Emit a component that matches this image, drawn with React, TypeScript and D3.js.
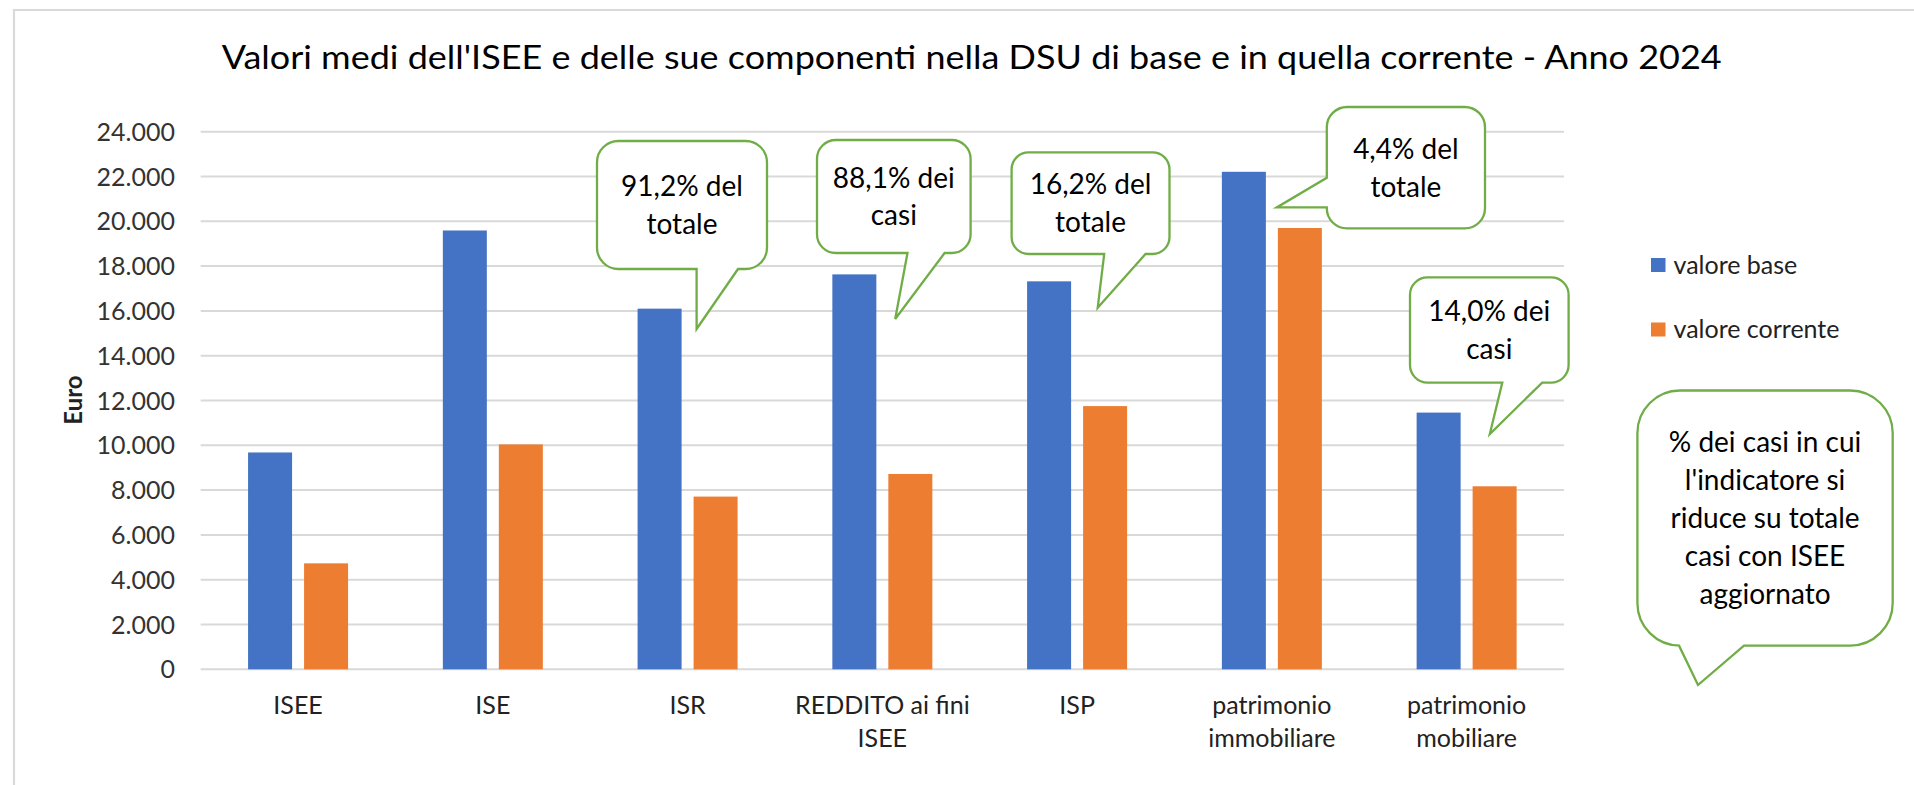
import React from 'react';
import * as d3 from 'd3';

// ---------- DATA ----------
const categories = [
  'ISEE',
  'ISE',
  'ISR',
  'REDDITO ai fini ISEE',
  'ISP',
  'patrimonio immobiliare',
  'patrimonio mobiliare',
];
const seriesNames = ['valore base', 'valore corrente'];
const valoreBase = [9680, 19590, 16100, 17630, 17320, 22210, 11460];
const valoreCorrente = [4730, 10040, 7710, 8720, 11750, 19700, 8170];
const yTickValues = [0, 2000, 4000, 6000, 8000, 10000, 12000, 14000, 16000, 18000, 20000, 22000, 24000];
const titleText = "Valori medi dell'ISEE e delle sue componenti nella DSU di base e in quella corrente - Anno 2024";
const yAxisTitle = 'Euro';
const calloutTexts = [
  ['91,2% del', 'totale'],
  ['88,1% dei', 'casi'],
  ['16,2% del', 'totale'],
  ['4,4% del', 'totale'],
  ['14,0% dei', 'casi'],
  ['% dei casi in cui', "l'indicatore si", 'riduce su totale', 'casi con ISEE', 'aggiornato'],
];

// ---------- LAYOUT ----------
const W = 1914;
const H = 785;
const PLOT = { left: 200.7, right: 1564, top: 131.7, bottom: 669.3 };
const COLORS = ['#4472C4', '#ED7D31'];
const GRID = '#D9D9D9';
const GREEN = '#70AD47';
const FONT = 'Lato, Carlito, Calibri, "Noto Sans", sans-serif';

type Callout = {
  x0: number; y0: number; x1: number; y1: number;
  side: 'bottom' | 'left'; a: number; b: number; tip: [number, number];
};
const CALLOUT_SHAPES: Callout[] = [
  { x0: 597, y0: 141, x1: 767, y1: 269, side: 'bottom', a: 696.6, b: 738, tip: [696.6, 329] },
  { x0: 817, y0: 140, x1: 970.6, y1: 253, side: 'bottom', a: 907.5, b: 944.6, tip: [895.2, 319] },
  { x0: 1011.6, y0: 152.4, x1: 1169.5, y1: 254, side: 'bottom', a: 1104.2, b: 1145.5, tip: [1097.7, 307.8] },
  { x0: 1326.8, y0: 107, x1: 1485, y1: 228.4, side: 'left', a: 177.8, b: 207.4, tip: [1276.8, 207.4] },
  { x0: 1410, y0: 277.4, x1: 1568.6, y1: 382.6, side: 'bottom', a: 1502.3, b: 1542.2, tip: [1489.8, 434] },
  { x0: 1637.4, y0: 390.5, x1: 1892.7, y1: 645.6, side: 'bottom', a: 1679, b: 1744, tip: [1698, 685] },
];

function calloutPath(c: Callout): string {
  const { x0, y0, x1, y1 } = c;
  const r = Math.min(x1 - x0, y1 - y0) / 6;
  const p = d3.path();
  p.moveTo(x0 + r, y0);
  p.lineTo(x1 - r, y0);
  p.arcTo(x1, y0, x1, y0 + r, r);
  p.lineTo(x1, y1 - r);
  p.arcTo(x1, y1, x1 - r, y1, r);
  if (c.side === 'bottom') {
    p.lineTo(c.b, y1);
    p.lineTo(c.tip[0], c.tip[1]);
    p.lineTo(c.a, y1);
  }
  p.lineTo(x0 + r, y1);
  p.arcTo(x0, y1, x0, y1 - r, r);
  if (c.side === 'left') {
    p.lineTo(x0, c.b);
    p.lineTo(c.tip[0], c.tip[1]);
    p.lineTo(x0, c.a);
  }
  p.lineTo(x0, y0 + r);
  p.arcTo(x0, y0, x0 + r, y0, r);
  p.closePath();
  return p.toString();
}

function wrapLabel(s: string, maxChars: number): string[] {
  const words = s.split(' ');
  const lines: string[] = [];
  let cur = '';
  for (const w of words) {
    const t = cur ? cur + ' ' + w : w;
    if (t.length > maxChars && cur) {
      lines.push(cur);
      cur = w;
    } else cur = t;
  }
  if (cur) lines.push(cur);
  return lines;
}

const itLocale = d3.formatLocale({ decimal: ',', thousands: '.', grouping: [3], currency: ['€', ''] });
const fmt = itLocale.format(',');

export default function App() {
  React.useEffect(() => {
    document.body.style.margin = '0';
    document.body.style.overflow = 'hidden';
  }, []);

  const x = d3.scaleBand<string>().domain(categories).range([PLOT.left, PLOT.right]).paddingInner(0).paddingOuter(0);
  const groupW = 100;
  const xs = d3.scaleBand<string>().domain(seriesNames).range([0, groupW]).paddingInner(0.2143).paddingOuter(0);
  const y = d3.scaleLinear().domain([0, 24000]).range([PLOT.bottom, PLOT.top]);
  const series = [valoreBase, valoreCorrente];

  return (
    <svg width={W} height={H} style={{ position: 'absolute', left: 0, top: 0, background: '#fff' }} fontFamily={FONT}>
      <rect x={0} y={0} width={W} height={H} fill="#fff" />
      {/* chart border */}
      <path d={`M14,${H} V10 H${W}`} fill="none" stroke={GRID} strokeWidth={2.2} />

      {/* title */}
      <text x={971.7} y={68.5} textAnchor="middle" fontSize={32.5} fill="#000" textLength={1500} lengthAdjust="spacingAndGlyphs">
        {titleText}
      </text>

      {/* gridlines */}
      {yTickValues.map((v) => (
        <line key={'g' + v} x1={PLOT.left} x2={PLOT.right} y1={y(v)} y2={y(v)} stroke={GRID} strokeWidth={2} />
      ))}
      {/* y tick labels */}
      {yTickValues.map((v) => (
        <text key={'t' + v} x={175} y={y(v)} dy="0.36em" textAnchor="end" fontSize={25} fill="#333">
          {fmt(v)}
        </text>
      ))}
      {/* y axis title */}
      <text transform={`translate(82,400) rotate(-90)`} textAnchor="middle" fontSize={24} fontWeight="bold" fill="#222">
        {yAxisTitle}
      </text>

      {/* bars */}
      {series.map((vals, si) =>
        vals.map((v, i) => {
          const cx = (x(categories[i]) as number) + x.bandwidth() / 2;
          const bx = cx - groupW / 2 + (xs(seriesNames[si]) as number);
          return (
            <rect key={`b${si}-${i}`} x={bx} y={y(v)} width={xs.bandwidth()} height={y(0) - y(v)} fill={COLORS[si]} />
          );
        })
      )}

      {/* x labels */}
      {categories.map((c) => {
        const cx = (x(c) as number) + x.bandwidth() / 2;
        const lines = wrapLabel(c, 15);
        return (
          <text key={'x' + c} x={cx} y={714} textAnchor="middle" fontSize={25} fill="#222">
            {lines.map((l, li) => (
              <tspan key={li} x={cx} y={714 + li * 33}>
                {l}
              </tspan>
            ))}
          </text>
        );
      })}

      {/* legend */}
      {seriesNames.map((s, si) => {
        const cy = 265 + si * 64.5;
        return (
          <g key={'l' + s}>
            <rect x={1651} y={cy - 7} width={14.5} height={14} fill={COLORS[si]} />
            <text x={1673.5} y={cy + 8.5} fontSize={25} fill="#222">
              {s}
            </text>
          </g>
        );
      })}

      {/* callouts */}
      {CALLOUT_SHAPES.map((c, ci) => {
        const cx = (c.x0 + c.x1) / 2;
        const cy = (c.y0 + c.y1) / 2;
        const lines = calloutTexts[ci];
        const n = lines.length;
        return (
          <g key={'c' + ci}>
            <path d={calloutPath(c)} fill="#fff" stroke={GREEN} strokeWidth={2.3} strokeLinejoin="miter" />
            <text textAnchor="middle" fontSize={28} fill="#000">
              {lines.map((l, li) => (
                <tspan key={li} x={cx} y={cy + 10 + (li - (n - 1) / 2) * 37.8}>
                  {l}
                </tspan>
              ))}
            </text>
          </g>
        );
      })}
    </svg>
  );
}
